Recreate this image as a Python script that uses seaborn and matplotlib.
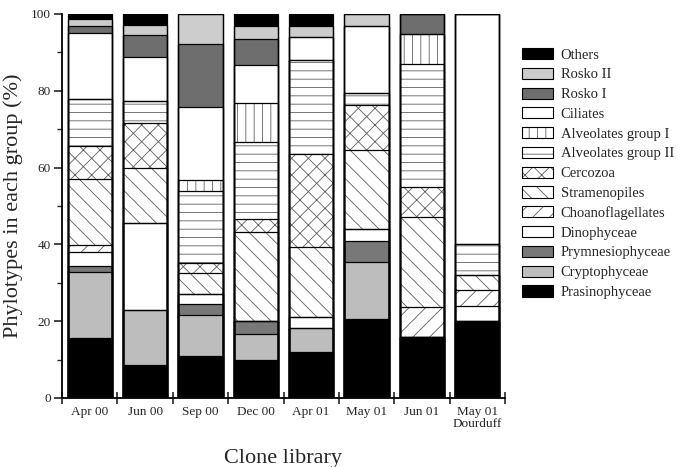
import numpy as np
import pandas as pd
import matplotlib
matplotlib.use("Agg")
import matplotlib.pyplot as plt
import seaborn as sns
from matplotlib.patches import Patch
from matplotlib.ticker import MultipleLocator, FixedLocator
from matplotlib.legend_handler import HandlerTuple

# ---------------- data ----------------
libraries = ["Apr 00", "Jun 00", "Sep 00", "Dec 00", "Apr 01", "May 01", "Jun 01", "May 01\nDourduff"]

# groups listed bottom -> top
groups = ["Prasinophyceae", "Cryptophyceae", "Prymnesiophyceae", "Dinophyceae",
          "Choanoflagellates", "Stramenopiles", "Cercozoa", "Alveolates group II",
          "Alveolates group I", "Ciliates", "Rosko I", "Rosko II", "Others"]

prasinophyceae    = [15.5,  8.6, 10.9,  9.9, 12.1, 20.6, 15.8, 20.0]
cryptophyceae     = [17.2, 14.3, 10.7,  6.7,  6.0, 14.7,  0.0,  0.0]
prymnesiophyceae  = [ 1.8,  0.0,  2.8,  3.5,  0.0,  5.7,  0.0,  0.0]
dinophyceae       = [ 3.4, 22.7,  2.6,  0.0,  3.1,  3.0,  0.0,  4.0]
choanoflagellates = [ 1.9,  0.0,  0.0,  0.0,  0.0,  0.0,  7.8,  4.0]
stramenopiles     = [17.2, 14.4,  5.5, 23.0, 18.0, 20.6, 23.6,  4.0]
cercozoa          = [ 8.6, 11.5,  2.6,  3.5, 24.3, 11.7,  7.8,  0.0]
alveolates_ii     = [12.3,  5.8, 18.9, 20.0, 24.5,  3.1, 31.9,  8.0]
alveolates_i      = [ 0.0,  0.0,  2.8, 10.1,  0.0,  0.0,  7.9,  0.0]
ciliates          = [17.1, 11.4, 18.9, 10.0,  6.1, 17.6,  0.0, 60.0]
rosko_i           = [ 1.9,  5.8, 16.4,  6.7,  0.0,  0.0,  5.2,  0.0]
rosko_ii          = [ 1.7,  2.6,  7.9,  3.5,  2.9,  3.0,  0.0,  0.0]
others            = [ 1.4,  2.9,  0.0,  3.1,  3.0,  0.0,  0.0,  0.0]

values = [prasinophyceae, cryptophyceae, prymnesiophyceae, dinophyceae,
          choanoflagellates, stramenopiles, cercozoa, alveolates_ii,
          alveolates_i, ciliates, rosko_i, rosko_ii, others]

yticks = [0, 20, 40, 60, 80, 100]

# ---------------- styles ----------------
styles = {
    "Prasinophyceae":     dict(fc="#000000", hatch=None),
    "Cryptophyceae":      dict(fc="#bdbdbd", hatch=None),
    "Prymnesiophyceae":   dict(fc="#787878", hatch=None),
    "Dinophyceae":        dict(fc="#ffffff", hatch=None),
    "Choanoflagellates":  dict(fc="#ffffff", hatch="//"),
    "Stramenopiles":      dict(fc="#ffffff", hatch="\\\\"),
    "Cercozoa":           dict(fc="#ffffff", hatch="xx"),
    "Alveolates group II": dict(fc="#ffffff", hatch="--"),
    "Alveolates group I": dict(fc="#ffffff", hatch="||"),
    "Ciliates":           dict(fc="#ffffff", hatch=None),
    "Rosko I":            dict(fc="#6e6e6e", hatch=None),
    "Rosko II":           dict(fc="#cccccc", hatch=None),
    "Others":             dict(fc="#000000", hatch=None),
}

sns.set_style("ticks")
plt.rcParams["font.family"] = ["Liberation Serif", "DejaVu Serif"]
plt.rcParams["hatch.linewidth"] = 0.6

# long table with cumulative tops
rows = []
cum = np.zeros(len(libraries))
for g, v in zip(groups, values):
    cum = cum + np.array(v)
    for lib, c in zip(libraries, cum):
        rows.append(dict(library=lib, group=g, top=c))
df = pd.DataFrame(rows)

fig = plt.figure(figsize=(6.83, 4.67), dpi=100)
ax = fig.add_axes([62 / 683, 1 - 398 / 467, (505 - 62) / 683, (398 - 14) / 467])

HATCH_COL = "#606060"
# fills (top-most cumulative first so lower groups paint over)
for g in reversed(groups):
    st = styles[g]
    sub = df[df.group == g]
    sns.barplot(data=sub, x="library", y="top", order=libraries, ax=ax,
                color=st["fc"], saturation=1, width=0.8, errorbar=None,
                hatch=st["hatch"], edgecolor=HATCH_COL if st["hatch"] else st["fc"],
                linewidth=0)
# outlines
for g in reversed(groups):
    sub = df[df.group == g]
    sns.barplot(data=sub, x="library", y="top", order=libraries, ax=ax,
                fill=False, color="black", width=0.8, errorbar=None, linewidth=0.9)

ax.set_xlim(-0.5, len(libraries) - 0.5)
ax.set_ylim(0, 100)
ax.set_yticks(yticks)
ax.yaxis.set_minor_locator(MultipleLocator(10))
ax.xaxis.set_minor_locator(FixedLocator(np.arange(-0.5, len(libraries), 1.0)))
ax.set_xticks(range(len(libraries)))
ax.set_xticklabels(libraries, fontsize=9.5, linespacing=0.95)
ax.tick_params(axis="x", which="major", length=0, pad=6)
ax.tick_params(axis="x", which="minor", length=8, width=1.2, direction="inout")
ax.tick_params(axis="y", which="major", length=6, width=1.2, labelsize=9.5, pad=2)
ax.tick_params(axis="y", which="minor", length=3.5, width=1.0)

for s in ["top", "right"]:
    ax.spines[s].set_visible(False)
for s in ["left", "bottom"]:
    ax.spines[s].set_linewidth(1.3)
    ax.spines[s].set_color("black")

ax.set_xlabel("Clone library", fontsize=16, labelpad=14)
ax.set_ylabel("Phylotypes in each group (%)", fontsize=16, labelpad=6)

# legend (top -> bottom)
handles, labels = [], []
for g in reversed(groups):
    st = styles[g]
    if st["hatch"]:
        h = (Patch(facecolor="white", edgecolor=HATCH_COL, hatch=st["hatch"], linewidth=0),
             Patch(facecolor="none", edgecolor="black", linewidth=0.8))
    else:
        h = Patch(facecolor=st["fc"], edgecolor="black", linewidth=0.8)
    handles.append(h)
    labels.append(g)
fig.legend(handles, labels, loc="upper left", bbox_to_anchor=(522 / 683, 1 - 48 / 467),
           frameon=False, fontsize=10.5, handlelength=2.1, handleheight=0.8,
           handletextpad=0.55, labelspacing=0.42, borderaxespad=0, borderpad=0,
           handler_map={tuple: HandlerTuple(ndivide=1)})

fig.savefig("out.png", dpi=100)
